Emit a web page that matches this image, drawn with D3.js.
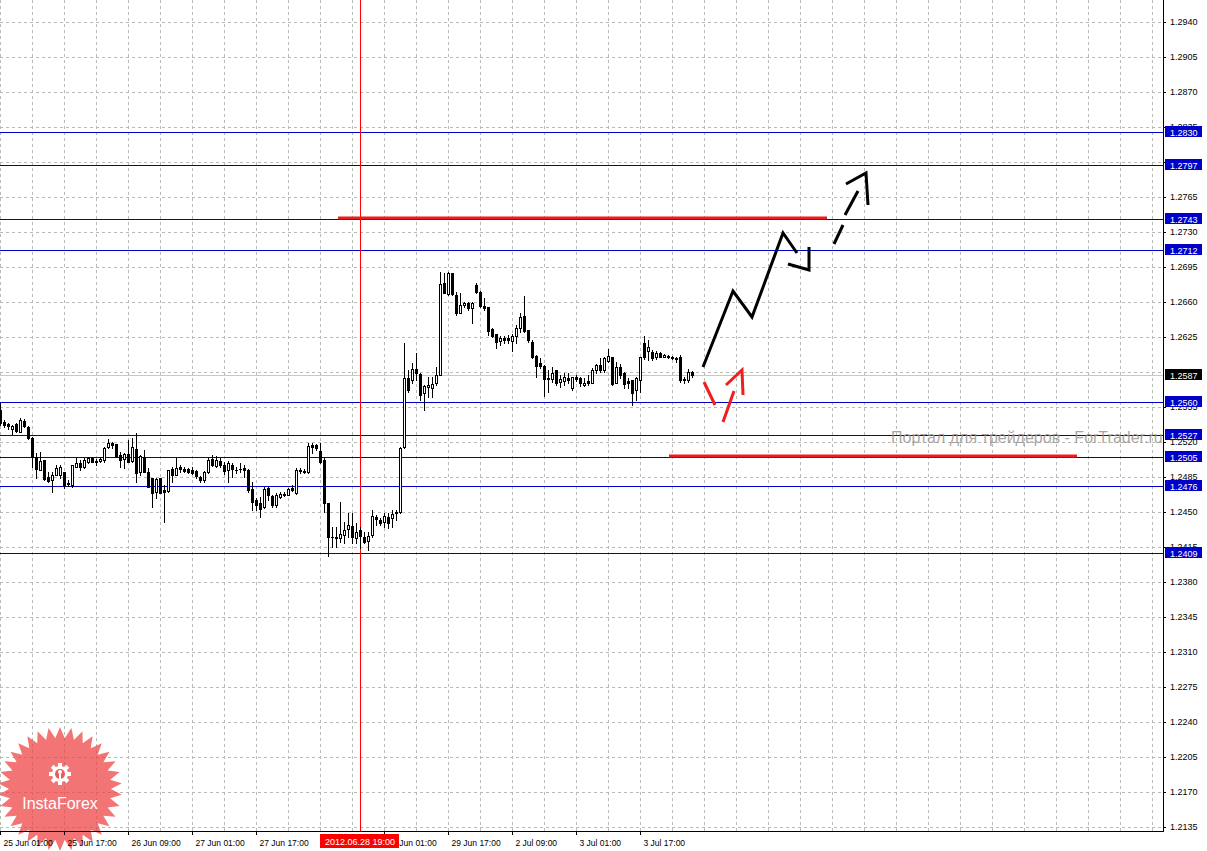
<!DOCTYPE html>
<html>
<head>
<meta charset="utf-8">
<script src="https://cdn.jsdelivr.net/npm/d3@7"></script>
<style>
  html, body { margin: 0; padding: 0; background: #fff; }
  svg { display: block; }
</style>
</head>
<body>
<svg id="chart" width="1207" height="851"></svg>
<script>
// EURUSD H1, one row per bar: [open, high, low, close], first bar 25 Jun 2012 01:00
const ohlc = [
  [1.2552,1.2559,1.2537,1.2539],[1.2540,1.2542,1.2535,1.2537],[1.2538,1.2539,1.2533,1.2536],[1.2533,1.2537,1.2528,1.2536],
  [1.2538,1.2539,1.2530,1.2531],[1.2530,1.2544,1.2530,1.2542],[1.2541,1.2543,1.2535,1.2536],[1.2535,1.2536,1.2523,1.2524],
  [1.2524,1.2525,1.2495,1.2505],[1.2505,1.2509,1.2484,1.2493],[1.2492,1.2510,1.2492,1.2501],[1.2502,1.2502,1.2482,1.2483],
  [1.2485,1.2490,1.2480,1.2481],[1.2482,1.2490,1.2470,1.2487],[1.2487,1.2497,1.2487,1.2494],[1.2487,1.2497,1.2484,1.2495],
  [1.2490,1.2490,1.2474,1.2477],[1.2479,1.2482,1.2476,1.2478],[1.2477,1.2497,1.2475,1.2497],[1.2495,1.2504,1.2495,1.2499],
  [1.2499,1.2502,1.2492,1.2495],[1.2495,1.2504,1.2494,1.2502],[1.2500,1.2505,1.2499,1.2504],[1.2504,1.2505,1.2500,1.2500],
  [1.2501,1.2503,1.2497,1.2500],[1.2501,1.2505,1.2500,1.2503],[1.2502,1.2515,1.2500,1.2514],[1.2515,1.2523,1.2514,1.2519],
  [1.2519,1.2520,1.2514,1.2517],[1.2518,1.2518,1.2505,1.2506],[1.2507,1.2510,1.2495,1.2502],[1.2503,1.2509,1.2494,1.2508],
  [1.2508,1.2522,1.2500,1.2500],[1.2501,1.2524,1.2500,1.2515],[1.2513,1.2529,1.2480,1.2489],[1.2490,1.2507,1.2487,1.2506],
  [1.2505,1.2512,1.2490,1.2490],[1.2490,1.2494,1.2475,1.2475],[1.2484,1.2484,1.2455,1.2469],[1.2470,1.2484,1.2464,1.2483],
  [1.2484,1.2484,1.2469,1.2469],[1.2472,1.2477,1.2440,1.2470],[1.2471,1.2492,1.2470,1.2492],[1.2493,1.2495,1.2480,1.2487],
  [1.2487,1.2504,1.2487,1.2494],[1.2495,1.2497,1.2490,1.2493],[1.2493,1.2495,1.2490,1.2491],[1.2493,1.2494,1.2489,1.2490],
  [1.2492,1.2495,1.2488,1.2489],[1.2491,1.2492,1.2484,1.2486],[1.2485,1.2486,1.2480,1.2482],[1.2482,1.2491,1.2480,1.2490],
  [1.2490,1.2504,1.2489,1.2502],[1.2503,1.2507,1.2496,1.2497],[1.2496,1.2506,1.2495,1.2502],[1.2501,1.2504,1.2495,1.2497],
  [1.2497,1.2500,1.2488,1.2491],[1.2492,1.2501,1.2480,1.2499],[1.2497,1.2499,1.2485,1.2493],[1.2492,1.2495,1.2489,1.2492],
  [1.2493,1.2499,1.2490,1.2493],[1.2494,1.2497,1.2485,1.2492],[1.2492,1.2493,1.2470,1.2472],[1.2473,1.2480,1.2452,1.2460],
  [1.2462,1.2464,1.2452,1.2457],[1.2459,1.2465,1.2445,1.2453],[1.2455,1.2475,1.2454,1.2473],[1.2474,1.2475,1.2462,1.2467],
  [1.2466,1.2467,1.2455,1.2457],[1.2457,1.2469,1.2455,1.2467],[1.2465,1.2470,1.2464,1.2468],[1.2468,1.2470,1.2466,1.2467],
  [1.2467,1.2474,1.2467,1.2473],[1.2474,1.2477,1.2471,1.2472],[1.2469,1.2494,1.2468,1.2492],[1.2492,1.2494,1.2489,1.2491],
  [1.2491,1.2493,1.2489,1.2490],[1.2490,1.2519,1.2489,1.2516],[1.2517,1.2519,1.2509,1.2515],[1.2517,1.2518,1.2512,1.2514],
  [1.2511,1.2519,1.2499,1.2500],[1.2502,1.2504,1.2450,1.2459],[1.2459,1.2459,1.2406,1.2425],[1.2425,1.2435,1.2415,1.2425],
  [1.2425,1.2435,1.2415,1.2424],[1.2424,1.2460,1.2420,1.2428],[1.2427,1.2440,1.2419,1.2432],[1.2433,1.2449,1.2425,1.2437],
  [1.2436,1.2449,1.2419,1.2425],[1.2424,1.2439,1.2419,1.2430],[1.2432,1.2435,1.2414,1.2426],[1.2425,1.2430,1.2419,1.2420],
  [1.2421,1.2430,1.2412,1.2426],[1.2427,1.2452,1.2425,1.2446],[1.2445,1.2447,1.2437,1.2443],[1.2442,1.2444,1.2437,1.2439],
  [1.2440,1.2449,1.2435,1.2446],[1.2445,1.2449,1.2434,1.2439],[1.2444,1.2452,1.2435,1.2448],[1.2450,1.2452,1.2442,1.2449],
  [1.2450,1.2515,1.2449,1.2514],[1.2515,1.2619,1.2514,1.2584],[1.2584,1.2592,1.2570,1.2572],[1.2582,1.2599,1.2579,1.2593],
  [1.2593,1.2609,1.2582,1.2589],[1.2588,1.2589,1.2562,1.2567],[1.2569,1.2577,1.2552,1.2576],[1.2575,1.2585,1.2565,1.2577],
  [1.2574,1.2585,1.2565,1.2578],[1.2579,1.2595,1.2577,1.2587],[1.2587,1.2690,1.2587,1.2678],[1.2679,1.2689,1.2669,1.2669],
  [1.2668,1.2690,1.2667,1.2689],[1.2689,1.2689,1.2667,1.2668],[1.2667,1.2670,1.2647,1.2649],[1.2649,1.2669,1.2649,1.2657],
  [1.2657,1.2660,1.2655,1.2659],[1.2659,1.2660,1.2652,1.2654],[1.2654,1.2660,1.2639,1.2659],[1.2677,1.2679,1.2669,1.2670],
  [1.2670,1.2671,1.2655,1.2656],[1.2656,1.2664,1.2652,1.2654],[1.2655,1.2655,1.2627,1.2631],[1.2633,1.2634,1.2625,1.2626],
  [1.2628,1.2628,1.2614,1.2620],[1.2621,1.2626,1.2617,1.2624],[1.2624,1.2626,1.2619,1.2622],[1.2624,1.2627,1.2619,1.2622],
  [1.2621,1.2628,1.2611,1.2626],[1.2626,1.2637,1.2619,1.2634],[1.2634,1.2649,1.2630,1.2645],[1.2646,1.2666,1.2630,1.2631],
  [1.2632,1.2632,1.2620,1.2622],[1.2620,1.2622,1.2604,1.2605],[1.2606,1.2607,1.2585,1.2596],[1.2599,1.2604,1.2594,1.2596],
  [1.2596,1.2597,1.2566,1.2583],[1.2584,1.2592,1.2570,1.2583],[1.2583,1.2595,1.2580,1.2589],[1.2592,1.2592,1.2577,1.2579],
  [1.2580,1.2587,1.2575,1.2583],[1.2581,1.2589,1.2577,1.2585],[1.2584,1.2589,1.2579,1.2582],[1.2574,1.2585,1.2572,1.2585],
  [1.2585,1.2587,1.2581,1.2583],[1.2584,1.2585,1.2576,1.2579],[1.2577,1.2584,1.2576,1.2579],[1.2581,1.2587,1.2577,1.2579],
  [1.2579,1.2594,1.2579,1.2592],[1.2592,1.2598,1.2589,1.2597],[1.2597,1.2604,1.2590,1.2592],[1.2592,1.2605,1.2590,1.2604],
  [1.2601,1.2613,1.2600,1.2606],[1.2605,1.2605,1.2577,1.2578],[1.2579,1.2600,1.2579,1.2595],[1.2595,1.2598,1.2584,1.2587],
  [1.2589,1.2590,1.2574,1.2578],[1.2581,1.2584,1.2574,1.2579],[1.2582,1.2582,1.2557,1.2569],[1.2572,1.2585,1.2562,1.2584],
  [1.2582,1.2605,1.2570,1.2605],[1.2619,1.2626,1.2603,1.2605],[1.2611,1.2622,1.2602,1.2615],[1.2610,1.2612,1.2602,1.2604],
  [1.2605,1.2611,1.2603,1.2609],[1.2609,1.2610,1.2605,1.2605],[1.2605,1.2608,1.2605,1.2607],[1.2606,1.2607,1.2604,1.2605],
  [1.2605,1.2606,1.2603,1.2604],[1.2604,1.2605,1.2600,1.2603],[1.2605,1.2607,1.2580,1.2582],[1.2582,1.2585,1.2579,1.2583],
  [1.2582,1.2593,1.2580,1.2590],[1.2590,1.2591,1.2585,1.2587]
];

// 1.2590 sits under the current-price tag, so it is left out
const priceTicks = [1.2940, 1.2905, 1.2870, 1.2835, 1.2800, 1.2765, 1.2730, 1.2695, 1.2660, 1.2625, 1.2555,
  1.2520, 1.2485, 1.2450, 1.2415, 1.2380, 1.2345, 1.2310, 1.2275, 1.2240, 1.2205, 1.2170, 1.2135];
const gridPrices = priceTicks.concat([1.2590]);

// 28 Jun 09:00 (bar 80) is covered by the cursor tag
const timeBars   = [0, 16, 32, 48, 64, 96, 112, 128, 144, 160];
const timeLabels = ['25 Jun 01:00', '25 Jun 17:00', '26 Jun 09:00', '27 Jun 01:00', '27 Jun 17:00',
  '29 Jun 01:00', '29 Jun 17:00', '2 Jul 09:00', '3 Jul 01:00', '3 Jul 17:00'];

// horizontal support / resistance levels
const levels = [1.2830, 1.2797, 1.2743, 1.2712, 1.2560, 1.2527, 1.2505, 1.2476, 1.2409];
const lastPrice = 1.2587;

// red target lines: [price, from bar, to bar]
const redLines = [[1.2744, 84.5, 206.75], [1.2506, 167.25, 269.25]];

const cursorBar = 90;
const cursorLabel = '2012.06.28 19:00';

// hand drawn forecast arrows, points as [bar, price]
const blackPath  = [[175.75, 1.2595], [183.25, 1.2671], [188, 1.2645], [195.75, 1.2729], [199.25, 1.2709]];
const blackHead  = [[197, 1.2698], [202.25, 1.2692], [202.25, 1.2715]];
const dashedPath = [[[208.5, 1.2718], [210.75, 1.2737]], [[211.25, 1.2747], [214.5, 1.2771]]];
const dashedHead = [[211.5, 1.2778], [216.5, 1.2789], [217, 1.2757]];
const redPath    = [[[176, 1.2580], [178.75, 1.2557]], [[180.75, 1.2540], [183.5, 1.2571]]];
const redHead    = [[181.5, 1.2577], [185.5, 1.2592], [185.75, 1.2567]];

const FONT = '"Liberation Sans", Arial, sans-serif';
const W = 1163, H = 831;

const svg = d3.select('#chart');
const x = d3.scaleLinear().domain([0, 1]).range([0, 4]);
const y = d3.scaleLinear().domain([1.2135, 1.2940]).range([827, 22]);
const py = v => Math.round(y(v));

// grid
const grid = svg.append('g').attr('stroke', '#b6bdb6').attr('stroke-dasharray', '3,3').attr('shape-rendering', 'crispEdges');
grid.selectAll('.gv').data(d3.range(0, 289, 8)).join('line').attr('class', 'gv')
  .attr('x1', d => x(d) + 0.5).attr('x2', d => x(d) + 0.5).attr('y1', 0).attr('y2', H);
grid.selectAll('.gh').data(gridPrices).join('line').attr('class', 'gh')
  .attr('x1', 0).attr('x2', W).attr('y1', d => py(d) + 0.5).attr('y2', d => py(d) + 0.5);

// bid line
svg.append('line').attr('x1', 0).attr('x2', W).attr('y1', py(lastPrice) + 0.5).attr('y2', py(lastPrice) + 0.5)
  .attr('stroke', '#c8c8c8').attr('shape-rendering', 'crispEdges');

// levels
svg.append('g').selectAll('line').data(levels).join('line')
  .attr('x1', 0).attr('x2', W).attr('y1', d => py(d) + 0.5).attr('y2', d => py(d) + 0.5)
  .attr('stroke', '#0000c8').attr('shape-rendering', 'crispEdges');

// cursor
svg.append('line').attr('x1', x(cursorBar) + 0.5).attr('x2', x(cursorBar) + 0.5).attr('y1', 0).attr('y2', H)
  .attr('stroke', '#ff0000').attr('shape-rendering', 'crispEdges');

// candles
const candles = svg.append('g').attr('shape-rendering', 'crispEdges');
candles.selectAll('.wick').data(ohlc).join('line').attr('class', 'wick')
  .attr('x1', (d, i) => x(i) + 0.5).attr('x2', (d, i) => x(i) + 0.5)
  .attr('y1', d => py(d[1])).attr('y2', d => py(d[2]) + 1)
  .attr('stroke', '#000');
candles.selectAll('.body').data(ohlc).join('rect').attr('class', 'body')
  .each(function(d, i) {
    const top = py(Math.max(d[0], d[3])), bot = py(Math.min(d[0], d[3]));
    const el = d3.select(this);
    if (d[3] > d[0] && bot - top > 1) {
      el.attr('x', x(i) - 0.5).attr('y', top + 0.5).attr('width', 2).attr('height', bot - top)
        .attr('fill', '#fff').attr('stroke', '#000');
    } else {
      el.attr('x', x(i) - 1).attr('y', top).attr('width', 3).attr('height', bot - top + 1).attr('fill', '#000');
    }
  });

// red target lines
svg.append('g').selectAll('line').data(redLines).join('line')
  .attr('x1', d => x(d[1])).attr('x2', d => x(d[2]))
  .attr('y1', d => y(d[0])).attr('y2', d => y(d[0]))
  .attr('stroke', '#ee1c1c').attr('stroke-width', 3);

// forecast arrows
const line = d3.line().x(d => x(d[0])).y(d => y(d[1]));
const arrows = svg.append('g').attr('fill', 'none').attr('stroke-width', 3).attr('stroke-linejoin', 'miter');
arrows.append('path').attr('d', line(blackPath)).attr('stroke', '#000');
arrows.append('path').attr('d', line(blackHead)).attr('stroke', '#000');
dashedPath.forEach(seg => arrows.append('path').attr('d', line(seg)).attr('stroke', '#000'));
arrows.append('path').attr('d', line(dashedHead)).attr('stroke', '#000');
redPath.forEach(seg => arrows.append('path').attr('d', line(seg)).attr('stroke', '#f01e1e'));
arrows.append('path').attr('d', line(redHead)).attr('stroke', '#f01e1e');

// InstaForex badge
const badge = svg.append('g');
const nSpikes = 34, cx = 60, cy = 789;
const star = d3.range(nSpikes * 2).map(k => {
  const a = k * Math.PI / nSpikes - Math.PI / 2, r = k % 2 ? 51 : 62;
  return [cx + r * Math.cos(a), cy + r * Math.sin(a)];
});
badge.append('path').attr('d', 'M' + star.join('L') + 'Z').attr('fill', 'rgba(238,62,62,0.72)');
const gear = badge.append('g').attr('transform', `translate(${cx},774)`).attr('fill', '#fff');
d3.range(8).forEach(k => gear.append('rect').attr('x', -2).attr('y', -11).attr('width', 4).attr('height', 5)
  .attr('transform', `rotate(${k * 45})`));
gear.append('circle').attr('r', 8);
gear.append('circle').attr('r', 5).attr('fill', '#ec5a5a');
gear.append('circle').attr('cy', -2).attr('r', 2);
gear.append('rect').attr('x', -1).attr('y', 0).attr('width', 2).attr('height', 9);
badge.append('text').attr('x', cx).attr('y', 809).attr('text-anchor', 'middle')
  .attr('font-family', FONT).attr('font-size', 16).attr('fill', '#fff').text('InstaForex');

// watermark
svg.append('text').attr('x', 891).attr('y', 443).attr('font-family', FONT).attr('font-size', 16)
  .attr('fill', '#9c9494').attr('fill-opacity', 0.85).text('Портал для трейдеров - ForTrader.ru');

// axes
svg.append('g').attr('transform', `translate(${W},0)`)
  .call(d3.axisRight(y).tickValues(priceTicks).tickFormat(d3.format('.4f')).tickSize(3).tickPadding(4))
  .call(g => g.select('.domain').remove())
  .attr('font-family', FONT).attr('font-size', 9);

svg.append('g').attr('transform', `translate(0,${H})`)
  .call(d3.axisBottom(x).tickValues(timeBars).tickFormat((d, i) => timeLabels[i]).tickSize(4).tickPadding(5))
  .call(g => g.select('.domain').remove())
  .attr('font-family', FONT).attr('font-size', 8.5)
  .call(g => g.selectAll('text').attr('text-anchor', 'start').attr('x', 3));

svg.append('path').attr('d', `M${W + 0.5},0V${H + 0.5}H0`).attr('fill', 'none').attr('stroke', '#000')
  .attr('shape-rendering', 'crispEdges');

// price labels
const tags = svg.append('g').attr('font-family', FONT).attr('font-size', 9);
const tagData = levels.map(v => ({ v, bg: '#0000c8' })).concat([{ v: lastPrice, bg: '#000' }]);
tags.selectAll('rect').data(tagData).join('rect')
  .attr('x', W + 2).attr('y', d => py(d.v) - 6).attr('width', 37).attr('height', 11).attr('fill', d => d.bg);
tags.selectAll('text').data(tagData).join('text')
  .attr('x', W + 7).attr('y', d => py(d.v) + 3.5).attr('fill', '#fff').text(d => d.v.toFixed(4));

// cursor time label
svg.append('rect').attr('x', x(cursorBar) - 40).attr('y', 834).attr('width', 79).attr('height', 14).attr('fill', '#ff0000');
svg.append('text').attr('x', x(cursorBar)).attr('y', 845).attr('text-anchor', 'middle')
  .attr('font-family', FONT).attr('font-size', 9).attr('fill', '#fff').text(cursorLabel);
</script>
</body>
</html>
